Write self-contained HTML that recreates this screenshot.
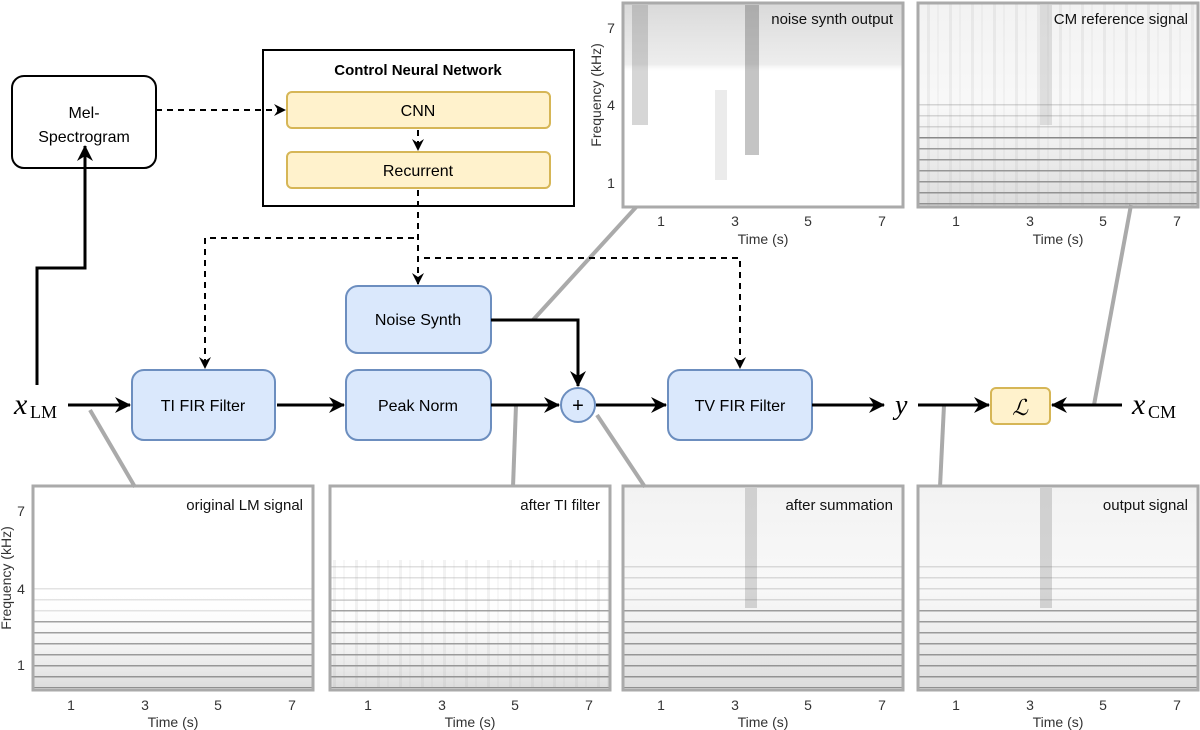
<!DOCTYPE html>
<html><head><meta charset="utf-8"><style>
body{margin:0;background:#fff;}
svg{display:block;font-family:"Liberation Sans",sans-serif;}
</style></head><body>
<svg width="1200" height="730" viewBox="0 0 1200 730" xmlns="http://www.w3.org/2000/svg">
<defs>
<marker id="a" markerWidth="12" markerHeight="12" refX="11" refY="6" orient="auto" markerUnits="userSpaceOnUse"><path d="M0,0 L12,6 L0,12 L4,6 z" fill="#000"/></marker>
<marker id="b" markerWidth="16" markerHeight="16" refX="15" refY="8" orient="auto" markerUnits="userSpaceOnUse"><path d="M0,0 L16,8 L0,16 L5,8 z" fill="#000"/></marker>
<pattern id="harm" width="280" height="11" patternUnits="userSpaceOnUse"><rect y="5" width="280" height="1.5" fill="#333" opacity="0.45"/></pattern>
<pattern id="vert" width="22" height="200" patternUnits="userSpaceOnUse"><rect x="3" width="3" height="200" fill="#999" opacity="0.12"/><rect x="13" width="2" height="200" fill="#999" opacity="0.08"/></pattern>
<linearGradient id="gh" x1="0" y1="0" x2="0" y2="1"><stop offset="0" stop-color="#fff" stop-opacity="0"/><stop offset="0.5" stop-color="#fff" stop-opacity="0"/><stop offset="1" stop-color="#999" stop-opacity="0.35"/></linearGradient>
<linearGradient id="fade" x1="0" y1="0" x2="0" y2="1"><stop offset="0" stop-color="#fff" stop-opacity="1"/><stop offset="1" stop-color="#fff" stop-opacity="0"/></linearGradient>
<linearGradient id="gfull" x1="0" y1="0" x2="0" y2="1"><stop offset="0" stop-color="#ccc" stop-opacity="0.25"/><stop offset="0.5" stop-color="#ddd" stop-opacity="0.2"/><stop offset="1" stop-color="#999" stop-opacity="0.35"/></linearGradient>
<linearGradient id="gnoise" x1="0" y1="0" x2="0" y2="1"><stop offset="0" stop-color="#aaa" stop-opacity="0.45"/><stop offset="0.3" stop-color="#ccc" stop-opacity="0.35"/><stop offset="0.34" stop-color="#fff" stop-opacity="0"/><stop offset="1" stop-color="#fff" stop-opacity="0"/></linearGradient>
</defs>

<g stroke="#aaa" stroke-width="4" fill="none">
<line x1="90" y1="410" x2="135" y2="487"/>
<line x1="516" y1="405" x2="513" y2="487"/>
<line x1="597" y1="415" x2="645" y2="487"/>
<line x1="944" y1="405" x2="940" y2="487"/>
<line x1="533" y1="320" x2="638" y2="205"/>
<line x1="1094" y1="405" x2="1131" y2="205"/>
</g>

<g>
<rect x="623" y="3" width="280" height="204" fill="#fff"/>
<rect x="623" y="3" width="280" height="204" fill="url(#gnoise)"/>
<rect x="632" y="5" width="16" height="120" fill="#777" opacity="0.3"/>
<rect x="745" y="5" width="14" height="150" fill="#555" opacity="0.35"/>
<rect x="715" y="90" width="12" height="90" fill="#999" opacity="0.2"/>
<rect x="623" y="3" width="280" height="204" fill="none" stroke="#aaa" stroke-width="3"/>
<text x="893" y="24" font-size="15" text-anchor="end" fill="#111">noise synth output</text>

<rect x="918" y="3" width="280" height="204" fill="url(#gfull)"/>
<rect x="918" y="130" width="280" height="75" fill="url(#harm)"/>
<rect x="918" y="100" width="280" height="40" fill="url(#harm)" opacity="0.4"/>
<rect x="918" y="3" width="280" height="204" fill="url(#vert)"/>
<rect x="1040" y="5" width="12" height="120" fill="#777" opacity="0.2"/>
<rect x="918" y="3" width="280" height="204" fill="none" stroke="#aaa" stroke-width="3"/>
<text x="1188" y="24" font-size="15" text-anchor="end" fill="#111">CM reference signal</text>

<rect x="33" y="486" width="280" height="204" fill="url(#gh)"/>
<rect x="33" y="620" width="280" height="68" fill="url(#harm)"/>
<rect x="33" y="580" width="280" height="40" fill="url(#harm)" opacity="0.3"/>
<rect x="330" y="486" width="280" height="204" fill="url(#gh)"/>
<rect x="330" y="600" width="280" height="88" fill="url(#harm)"/>
<rect x="330" y="560" width="280" height="40" fill="url(#harm)" opacity="0.35"/>
<rect x="330" y="560" width="280" height="128" fill="url(#vert)"/>
<rect x="623" y="486" width="280" height="204" fill="url(#gfull)"/>
<rect x="623" y="610" width="280" height="78" fill="url(#harm)"/>
<rect x="623" y="560" width="280" height="50" fill="url(#harm)" opacity="0.35"/>
<rect x="745" y="488" width="12" height="120" fill="#666" opacity="0.25"/>
<rect x="918" y="486" width="280" height="204" fill="url(#gfull)"/>
<rect x="918" y="610" width="280" height="78" fill="url(#harm)"/>
<rect x="918" y="560" width="280" height="50" fill="url(#harm)" opacity="0.35"/>
<rect x="1040" y="488" width="12" height="120" fill="#666" opacity="0.25"/>
<g fill="none" stroke="#aaa" stroke-width="3">
<rect x="33" y="486" width="280" height="204"/><rect x="330" y="486" width="280" height="204"/>
<rect x="623" y="486" width="280" height="204"/><rect x="918" y="486" width="280" height="204"/>
</g>
<g font-size="15" text-anchor="end" fill="#111">
<text x="303" y="510">original LM signal</text><text x="600" y="510">after TI filter</text>
<text x="893" y="510">after summation</text><text x="1188" y="510">output signal</text>
</g>
<g font-size="14" fill="#333" text-anchor="middle">
<text x="661" y="226">1</text><text x="735" y="226">3</text><text x="808" y="226">5</text><text x="882" y="226">7</text>
<text x="956" y="226">1</text><text x="1030" y="226">3</text><text x="1103" y="226">5</text><text x="1177" y="226">7</text>
<text x="763" y="244">Time (s)</text><text x="1058" y="244">Time (s)</text>
<text x="71" y="710">1</text><text x="145" y="710">3</text><text x="218" y="710">5</text><text x="292" y="710">7</text>
<text x="368" y="710">1</text><text x="442" y="710">3</text><text x="515" y="710">5</text><text x="589" y="710">7</text>
<text x="661" y="710">1</text><text x="735" y="710">3</text><text x="808" y="710">5</text><text x="882" y="710">7</text>
<text x="956" y="710">1</text><text x="1030" y="710">3</text><text x="1103" y="710">5</text><text x="1177" y="710">7</text>
<text x="173" y="727">Time (s)</text><text x="470" y="727">Time (s)</text><text x="763" y="727">Time (s)</text><text x="1058" y="727">Time (s)</text>
<text x="611" y="33">7</text><text x="611" y="110">4</text><text x="611" y="188">1</text>
<text x="21" y="516">7</text><text x="21" y="594">4</text><text x="21" y="670">1</text>
<text transform="translate(601,95) rotate(-90)">Frequency (kHz)</text>
<text transform="translate(11,578) rotate(-90)">Frequency (kHz)</text>
</g>
</g>

<rect x="12" y="76" width="144" height="92" rx="12" fill="#fff" stroke="#000" stroke-width="2"/>
<text x="84" y="118" font-size="16" text-anchor="middle">Mel-</text>
<text x="84" y="142" font-size="16" text-anchor="middle">Spectrogram</text>
<rect x="263" y="50" width="311" height="156" fill="#fff" stroke="#000" stroke-width="2"/>
<text x="418" y="75" font-size="15" font-weight="bold" text-anchor="middle">Control Neural Network</text>
<rect x="287" y="92" width="263" height="36" rx="5" fill="#fff2cc" stroke="#d6b656" stroke-width="2"/>
<text x="418" y="116" font-size="16" text-anchor="middle">CNN</text>
<rect x="287" y="152" width="263" height="36" rx="5" fill="#fff2cc" stroke="#d6b656" stroke-width="2"/>
<text x="418" y="176" font-size="16" text-anchor="middle">Recurrent</text>

<g fill="#dae8fc" stroke="#6c8ebf" stroke-width="2">
<rect x="346" y="286" width="145" height="67" rx="12"/>
<rect x="132" y="370" width="143" height="70" rx="12"/>
<rect x="346" y="370" width="145" height="70" rx="12"/>
<rect x="668" y="370" width="144" height="70" rx="12"/>
<circle cx="578" cy="405" r="17"/>
</g>
<g font-size="16" text-anchor="middle">
<text x="418" y="325">Noise Synth</text>
<text x="203" y="411">TI FIR Filter</text>
<text x="418" y="411">Peak Norm</text>
<text x="740" y="411">TV FIR Filter</text>
<text x="578" y="412" font-size="20">+</text>
</g>
<rect x="991" y="388" width="59" height="36" rx="5" fill="#fff2cc" stroke="#d6b656" stroke-width="2"/>
<text x="1020" y="415" font-size="22" font-style="italic" text-anchor="middle" font-family="Liberation Serif,serif">ℒ</text>

<g font-family="Liberation Serif,serif" font-style="italic">
<text x="14" y="414" font-size="30">x</text><text x="30" y="418" font-size="18" font-style="normal">LM</text>
<text x="895" y="414" font-size="28">y</text>
<text x="1132" y="414" font-size="30">x</text><text x="1148" y="418" font-size="18" font-style="normal">CM</text>
</g>

<g stroke="#000" fill="none">
<path d="M37,385 V268 H85 V146" stroke-width="3" marker-end="url(#b)"/>
<g stroke-width="2" stroke-dasharray="6,5">
<path d="M156,110 H285" marker-end="url(#a)"/>
<path d="M418,130 V150" marker-end="url(#a)"/>
<path d="M418,190 V284" marker-end="url(#a)"/>
<path d="M414,238 H205 V368" marker-end="url(#a)"/>
<path d="M424,258 H740 V368" marker-end="url(#a)"/>
</g>
<g stroke-width="3">
<path d="M491,320 H578 V386" marker-end="url(#b)"/>
<path d="M68,405 H130" marker-end="url(#b)"/>
<path d="M277,405 H344" marker-end="url(#b)"/>
<path d="M491,405 H559" marker-end="url(#b)"/>
<path d="M596,405 H666" marker-end="url(#b)"/>
<path d="M812,405 H884" marker-end="url(#b)"/>
<path d="M918,405 H989" marker-end="url(#b)"/>
<path d="M1122,405 H1052" marker-end="url(#b)"/>
</g>
</g>
</svg>
</body></html>
